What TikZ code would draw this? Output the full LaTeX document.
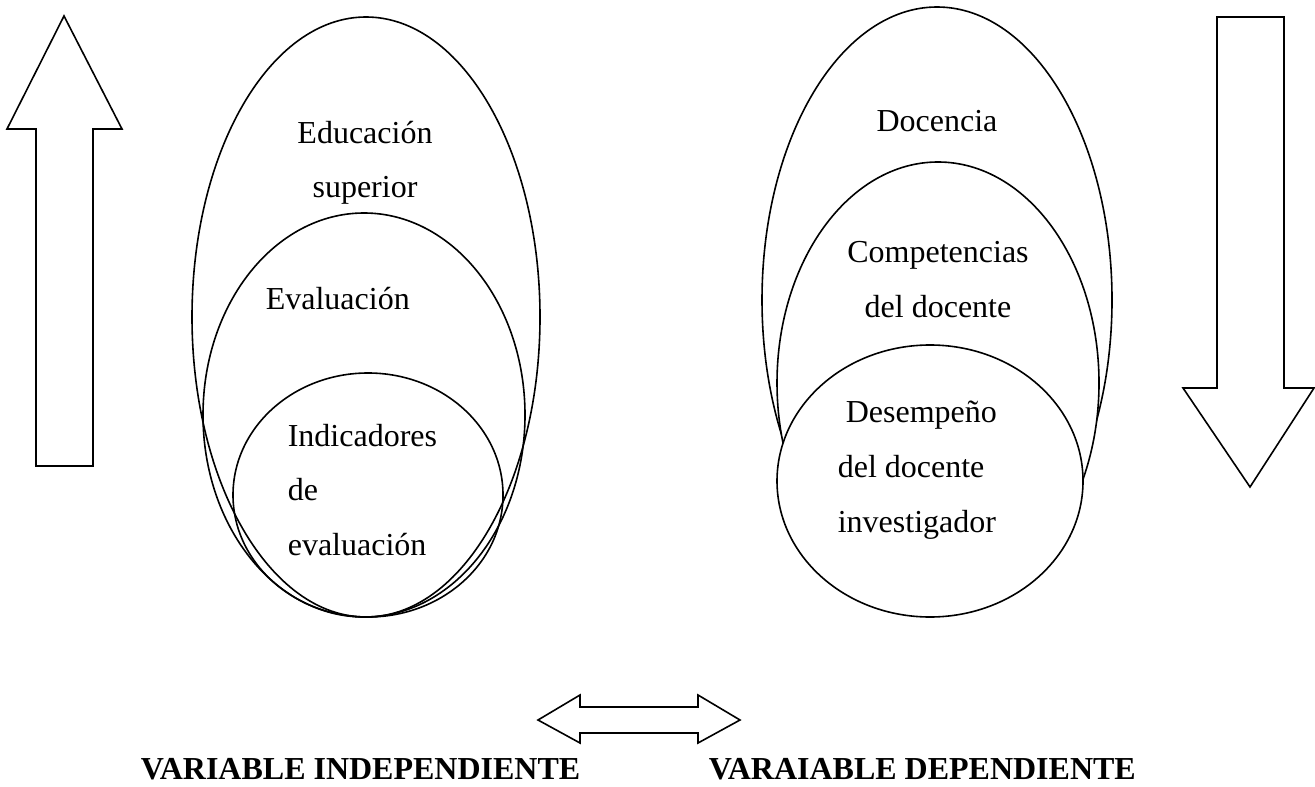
\documentclass[tikz,border=0pt]{standalone}
\usepackage{fontspec}
\setmainfont{Liberation Serif}
\usepackage{tikz}

\tikzset{
  lbl/.style={font=\fontsize{12}{20.6}\selectfont,inner sep=0pt},
  varlbl/.style={font=\fontsize{12}{14}\selectfont\bfseries,inner sep=0pt,anchor=base west}
}

\begin{document}
\begin{tikzpicture}[x=0.375pt,y=-0.375pt,line width=0.6pt]
\useasboundingbox (0,0) rectangle (1315,787);
% flechas
\draw (36,466)--(36,129)--(7,129)--(64,16)--(122,129)--(93,129)--(93,466)--cycle;
\draw (1217,17)--(1284,17)--(1284,388)--(1314,388)--(1250,487)--(1183,388)--(1217,388)--cycle;
\draw (538,720)--(580,695)--(580,707)--(698,707)--(698,695)--(740,720)--(698,743)--(698,733)--(580,733)--(580,743)--cycle;
% variable independiente
\draw (366,317) ellipse [x radius=174,y radius=300];
\draw (364,415) ellipse [x radius=161,y radius=202];
\draw (368,495) ellipse [x radius=135,y radius=122];
\node[lbl,align=center,anchor=north] (edu) at (365,120) {Educación\\superior};
\node[lbl,anchor=base west] (eval) at (265,310) {Evaluación};
\node[lbl,align=left,anchor=north west] (ind) at (287,423) {Indicadores\\de\\evaluación};
% variable dependiente
\draw[fill=white] (937,300) ellipse [x radius=175,y radius=293];
\draw[fill=white] (938,383) ellipse [x radius=161,y radius=221];
\draw[fill=white] (930,481) ellipse [x radius=153,y radius=136];
\node[lbl,anchor=base] (doc) at (937,132) {Docencia};
\node[lbl,align=center,anchor=north] (comp) at (938,241) {Competencias\\del docente};
\node[lbl,align=left,anchor=north west] (des) at (837,400) {\hspace*{3pt}Desempeño\\del docente\\investigador};
\node[varlbl] (vi) at (140,779) {VARIABLE INDEPENDIENTE};
\node[varlbl] (vd) at (708,779) {VARAIABLE DEPENDIENTE};
\end{tikzpicture}
\end{document}
